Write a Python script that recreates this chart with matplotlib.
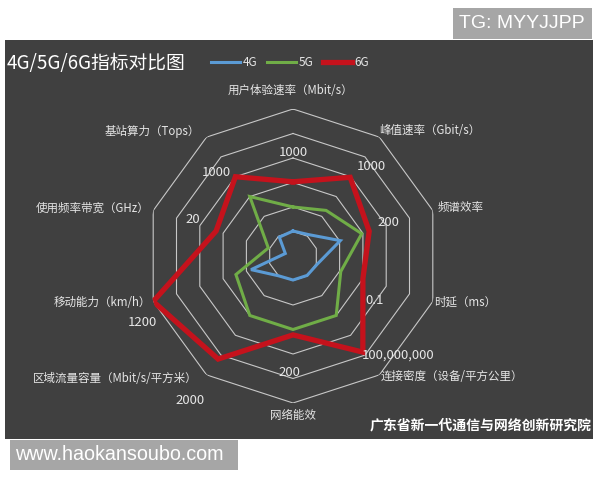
import numpy as np
import matplotlib
matplotlib.use("Agg")
import matplotlib.pyplot as plt
from matplotlib.patches import Rectangle

# ---- data ----
categories = ["用户体验速率（Mbit/s）", "峰值速率（Gbit/s）", "频谱效率", "时延（ms）",
              "连接密度（设备/平方公里）", "网络能效", "区域流量容量（Mbit/s/平方米）",
              "移动能力（km/h）", "使用频率带宽（GHz）", "基站算力（Tops）"]
series_names = ["4G", "5G", "6G"]
values_4g = [1.02, 1.08, 2.03, 1.05, 0.98, 0.98, 1.0, 1.8, 0.33, 0.95]
values_5g = [2.0, 2.3, 2.95, 2.05, 3.0, 3.0, 3.0, 2.45, 1.06, 3.0]
values_6g = [3.03, 3.97, 3.27, 3.0, 4.85, 3.22, 5.2, 6.0, 3.3, 4.0]
axis_value_labels = ["1000", "1000", "200", "0.1", "100,000,000", "200", "2000", "1200", "20", "1000"]
ring_levels = [1, 2, 3, 4, 5, 6]

W, H = 600, 480
def fx(x): return x / W
def fy(y): return 1 - y / H

CJK = ['Noto Sans CJK SC', 'DejaVu Sans']
plt.rcParams['font.family'] = CJK

fig = plt.figure(figsize=(6, 4.8), dpi=100, facecolor='white')

# dark panel
fig.add_artist(Rectangle((fx(5), fy(439)), fx(593) - fx(5), fy(40) - fy(439),
                         transform=fig.transFigure, facecolor='#404040', edgecolor='none', zorder=0))
# watermark boxes
fig.add_artist(Rectangle((fx(453), fy(39)), fx(592) - fx(453), fy(8) - fy(39),
                         transform=fig.transFigure, facecolor='#a6a6a6', edgecolor='none', zorder=0))
fig.text(fx(522), fy(23.5), "TG: MYYJJPP", color='white', fontsize=14, ha='center', va='center',
         family=['Liberation Sans', 'DejaVu Sans'])
fig.add_artist(Rectangle((fx(10), fy(470)), fx(238) - fx(10), fy(440) - fy(470),
                         transform=fig.transFigure, facecolor='#a6a6a6', edgecolor='none', zorder=0))
fig.text(fx(15), fy(455), "www.haokansoubo.com", color='white', fontsize=14.2, ha='left', va='center',
         family=['Liberation Sans', 'DejaVu Sans'])

# radar axes
cx, cy, R = 293, 256, 147
ax = fig.add_axes([fx(cx - R), fy(cy + R), (2 * R) / W, (2 * R) / H], projection='polar')
ax.set_theta_offset(np.pi / 2)
ax.set_theta_direction(-1)
ax.set_ylim(0, 6)
ax.patch.set_alpha(0)
ax.grid(False)
ax.spines['polar'].set_visible(False)
ax.set_xticks([])
ax.set_yticks([])

n = len(categories)
theta = np.linspace(0, 2 * np.pi, n, endpoint=False)
theta_c = np.concatenate([theta, theta[:1]])

for lvl in ring_levels:
    ax.plot(theta_c, [lvl] * (n + 1), color='#c8c8c8', lw=0.8, zorder=1)

colors = ['#5b9bd5', '#70ad47', '#c5121c']
widths = [2.2, 2.2, 3.8]
handles = []
for vals, name, c, lw in zip([values_4g, values_5g, values_6g], series_names, colors, widths):
    v = np.concatenate([vals, vals[:1]])
    h, = ax.plot(theta_c, v, color=c, lw=lw, label=name, zorder=3, solid_joinstyle='miter')
    handles.append(h)

# category labels (pixel positions)
label_pos = [(290, 90), (430, 131), (461, 208), (465, 302), (452, 377),
             (293, 416), (115, 378), (102, 302), (93, 208), (152, 131)]
for txt, (x, y) in zip(categories, label_pos):
    fig.text(fx(x), fy(y), txt, color='#e6e6e6', fontsize=8.3, ha='center', va='center')

# value annotations
val_pos = [(293, 152, 'center'), (371, 167, 'center'), (388, 222, 'center'), (375, 301, 'center'),
           (362, 355, 'left'), (289, 373, 'center'), (190, 400, 'center'), (142, 323, 'center'),
           (193, 220, 'center'), (216, 173, 'center')]
for txt, (x, y, ha) in zip(axis_value_labels, val_pos):
    fig.text(fx(x), fy(y), txt, color='#e6e6e6', fontsize=9.5, ha=ha, va='center', zorder=5)

# title
fig.text(fx(7), fy(63), "4G/5G/6G指标对比图", color='white', fontsize=13.5, ha='left', va='center')

# legend
leg = fig.legend(handles=handles, loc='center', bbox_to_anchor=(fx(290), fy(63)),
                 bbox_transform=fig.transFigure, ncol=3, frameon=False, fontsize=8.5,
                 handlelength=2.5, handletextpad=0.2, columnspacing=0.8, labelcolor='#e6e6e6')

# source
fig.text(fx(592), fy(425), "广东省新一代通信与网络创新研究院", color='white', fontsize=10,
         ha='right', va='center', fontweight='bold')

fig.savefig("out.png", dpi=100, facecolor='white')
